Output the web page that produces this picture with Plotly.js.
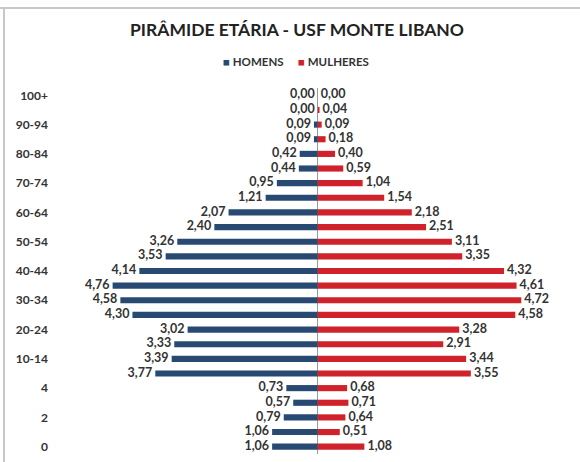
<!DOCTYPE html>
<html>
<head>
<meta charset="utf-8">
<script src="https://cdn.plot.ly/plotly-3.0.1.min.js"></script>
<style>html,body{margin:0;padding:0;background:#fff;}#chart{width:580px;height:462px;}</style>
</head>
<body>
<div id="chart"></div>
<script>
// Categories listed from bottom (0) to top (100+)
var categories = ['0','1','2','3','4','5-9','10-14','15-19','20-24','25-29','30-34','35-39','40-44','45-49','50-54','55-59','60-64','65-69','70-74','75-79','80-84','85-89','90-94','95-99','100+'];
var tickLabels = ['0','','2','','4','','10-14','','20-24','','30-34','','40-44','','50-54','','60-64','','70-74','','80-84','','90-94','','100+'];
var homens   = [1.06,1.06,0.79,0.57,0.73,3.77,3.39,3.33,3.02,4.30,4.58,4.76,4.14,3.53,3.26,2.40,2.07,1.21,0.95,0.44,0.42,0.09,0.09,0.00,0.00];
var mulheres = [1.08,0.51,0.64,0.71,0.68,3.55,3.44,2.91,3.28,4.58,4.72,4.61,4.32,3.35,3.11,2.51,2.18,1.54,1.04,0.59,0.40,0.18,0.09,0.04,0.00];
var seriesNames = ['HOMENS', 'MULHERES'];

var BLUE = '#284a72', RED = '#d0222a';
var FONT = 'Lato, "Open Sans", sans-serif';
var NB = '\u00a0';
function fmt(v){ return v.toFixed(2).replace('.', ','); }
var negH = homens.map(function(v){ return -v; });

var traces = [
  {type:'bar', orientation:'h', name:seriesNames[0], y:categories, x:negH, width:0.42,
   marker:{color:BLUE}, hoverinfo:'skip', showlegend:false},
  {type:'bar', orientation:'h', name:seriesNames[1], y:categories, x:mulheres, width:0.42,
   marker:{color:RED}, hoverinfo:'skip', showlegend:false},
  {type:'scatter', mode:'text', y:categories, x:negH, text:homens.map(function(v){return fmt(v)+NB;}),
   textposition:'middle left', showlegend:false, hoverinfo:'skip',
   textfont:{family:FONT, size:12.5, color:'#333', weight:'bold'}},
  {type:'scatter', mode:'text', y:categories, x:mulheres, text:mulheres.map(function(v){return NB+fmt(v);}),
   textposition:'middle right', showlegend:false, hoverinfo:'skip',
   textfont:{family:FONT, size:12.5, color:'#333', weight:'bold'}}
];

var layout = {
  width:580, height:462,
  margin:{l:57, r:10, t:88, b:8, autoexpand:false},
  paper_bgcolor:'#fff', plot_bgcolor:'#fff',
  barmode:'overlay',
  showlegend:false,
  title:{text:'PIRÂMIDE ETÁRIA - USF MONTE LIBANO', x:297/580, xref:'container', xanchor:'center',
         y:1-30/462, yref:'container', yanchor:'middle',
         font:{family:FONT, size:17.5, color:'#222', weight:'bold'}},
  xaxis:{range:[-6.05,5.85], showgrid:false, showticklabels:false, ticks:'',
         zeroline:true, zerolinecolor:'#9a9a9a', zerolinewidth:1, fixedrange:true},
  yaxis:{type:'category', categoryorder:'array', categoryarray:categories,
         range:[-0.5, categories.length-0.5], autorange:false,
         tickmode:'array', tickvals:categories, ticktext:tickLabels,
         showgrid:false, zeroline:false, showline:false, ticks:'', ticklen:0,
         tickfont:{family:FONT, size:12, color:'#333', weight:'bold'}, ticklabelstandoff:8},
  annotations:[
    {xref:'paper', yref:'paper', x:(221-57)/513, y:1+(88-62)/366, xanchor:'left', yanchor:'middle',
     showarrow:false, text:'<span style="color:'+BLUE+'">■</span> '+seriesNames[0],
     font:{family:FONT, size:11.5, color:'#333', weight:'bold'}},
    {xref:'paper', yref:'paper', x:(296-57)/513, y:1+(88-62)/366, xanchor:'left', yanchor:'middle',
     showarrow:false, text:'<span style="color:'+RED+'">■</span> '+seriesNames[1],
     font:{family:FONT, size:11.5, color:'#333', weight:'bold'}}
  ],
  shapes:[
    {type:'line', xref:'paper', yref:'paper', x0:-57/513, x1:1+10/513, y0:1+80/366, y1:1+80/366,
     line:{color:'#c8c8c8', width:2}},
    {type:'line', xref:'paper', yref:'paper', x0:-53/513, x1:-53/513, y0:1+80/366, y1:-8/366,
     line:{color:'#c8c8c8', width:2}}
  ]
};

Plotly.newPlot('chart', traces, layout, {displayModeBar:false, staticPlot:true});
</script>
</body>
</html>
